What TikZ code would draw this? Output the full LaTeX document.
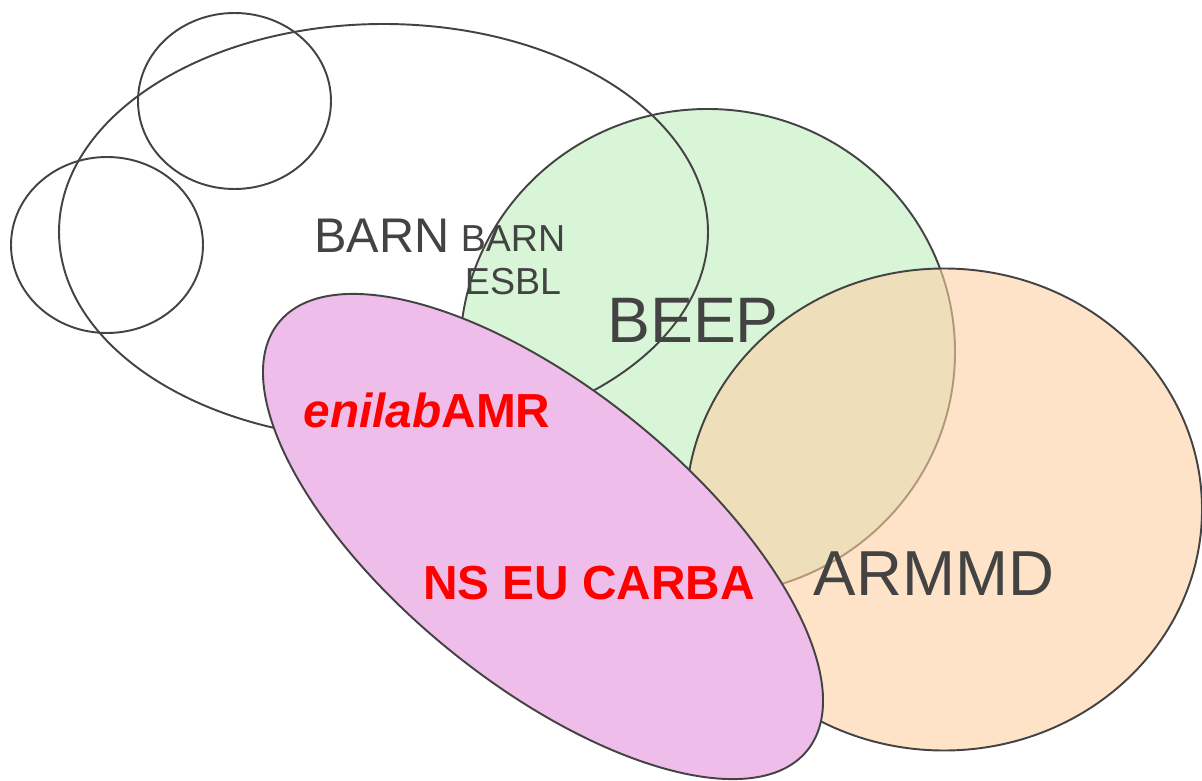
\documentclass[tikz,border=0pt]{standalone}
\usepackage{fontspec}
\setmainfont{Liberation Sans}
\definecolor{outline}{HTML}{434343}
\definecolor{beepgreen}{HTML}{D9F5D8}
\definecolor{armmdorange}{HTML}{FDD0A5}
\definecolor{enilabpink}{HTML}{EFBDE9}
\definecolor{labelred}{HTML}{FF0000}

\begin{document}
\begin{tikzpicture}[x=0.02cm, y=0.02cm]%
\tikzstyle{setline} = [draw=outline, line width=1.1pt]
\tikzstyle{graylabel} = [text=outline, inner sep=0pt, anchor=base]
\tikzstyle{redlabel} = [text=labelred, inner sep=0pt, anchor=base, font=\bfseries\fontsize{27.2}{33}\selectfont]

\useasboundingbox (0,0) rectangle (1202,-780);

\filldraw[setline, fill=beepgreen] (707.5,-352) ellipse [x radius=247.5, y radius=243];
\draw[setline] (383.5,-232) ellipse [x radius=324.5, y radius=208];
\draw[setline] (234.5,-101) ellipse [x radius=96.5, y radius=88];
\draw[setline] (107,-245) ellipse [x radius=96, y radius=88];
\fill[armmdorange, fill opacity=0.6] (944,-509.5) ellipse [x radius=258, y radius=241];
\draw[setline] (944,-509.5) ellipse [x radius=258, y radius=241];
\filldraw[setline, fill=enilabpink, rotate around={-39:(543,-536.5)}] (543,-536.5) ellipse [x radius=340, y radius=147];

\node[graylabel, font=\fontsize{27.7}{33}\selectfont] (barn) at (382,-253) {BARN};
\node[graylabel, font=\fontsize{21.4}{24.8}\selectfont, align=center] (barnesbl) at (513,-295) {BARN\\ESBL};
\node[graylabel, font=\fontsize{36.6}{44}\selectfont] (beep) at (693,-342) {BEEP};
\node[graylabel, font=\fontsize{36.2}{42}\selectfont] (armmd) at (934,-595) {ARMMD};
\node[redlabel] (enilab) at (427,-427) {\itshape enilab\upshape AMR};
\node[redlabel] (carba) at (589,-599) {NS EU CARBA};
\end{tikzpicture}
\end{document}
